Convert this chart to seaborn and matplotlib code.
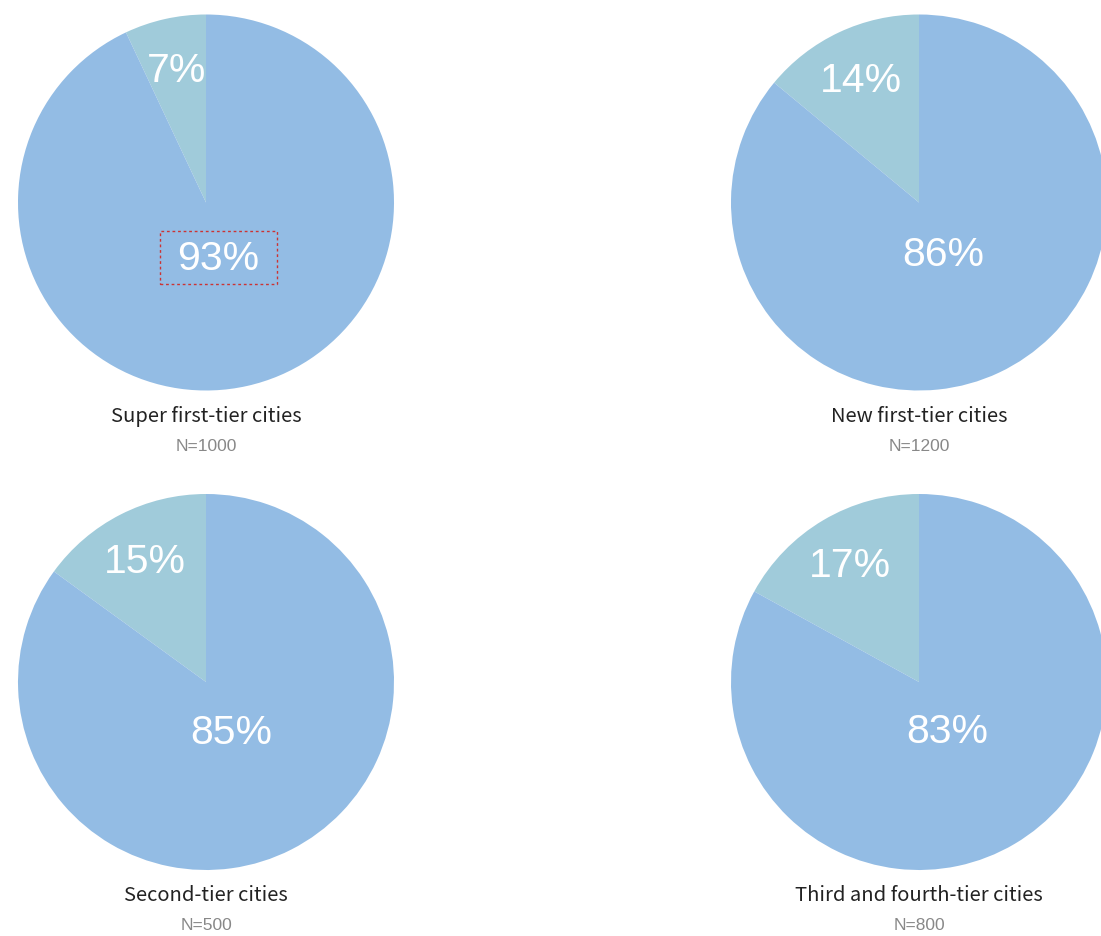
import numpy as np
import matplotlib
matplotlib.use("Agg")
import matplotlib.pyplot as plt
from matplotlib.patches import Rectangle
import seaborn as sns

# ---- data ----
titles = ["Super first-tier cities", "New first-tier cities",
          "Second-tier cities", "Third and fourth-tier cities"]
sample_sizes = [1000, 1200, 500, 800]
small_share = [7, 14, 15, 17]
large_share = [93, 86, 85, 83]

sns.set_theme(style="white")
plt.rcParams['font.family'] = ['Liberation Sans', 'DejaVu Sans']

colors = ["#A0CBDA", "#93BCE4"]

W, H = 1101, 937
fig = plt.figure(figsize=(W / 100, H / 100), dpi=100)
fig.patch.set_facecolor("white")

R = 188  # pie radius in px
centers = [(206, 203.5), (919, 203.5), (206, 683), (919, 683)]

for i, (cx, cy) in enumerate(centers):
    ax = fig.add_axes([(cx - R) / W, (H - cy - R) / H, 2 * R / W, 2 * R / H])
    vals = [small_share[i], large_share[i]]
    wedges, _ = ax.pie(vals, colors=colors, startangle=90, counterclock=True,
                       radius=1, wedgeprops=dict(linewidth=0))
    ax.set_xlim(-1, 1)
    ax.set_ylim(-1, 1)
    ax.set_aspect("equal")
    ax.axis("off")
    # labels
    dists = [0.72, 0.30]
    for k, w in enumerate(wedges):
        ang = np.deg2rad((w.theta1 + w.theta2) / 2)
        x, y = dists[k] * np.cos(ang), dists[k] * np.sin(ang)
        ax.text(x, y, f"{vals[k]}%", ha="center", va="center",
                color="white", fontsize=29.5)
        if i == 0 and k == 1:
            bw, bh = 117 / R, 53 / R
            ax.add_patch(Rectangle((x - bw / 2, y - bh / 2), bw, bh,
                                   fill=False, edgecolor="#CC3333",
                                   linewidth=1, linestyle=(0, (2, 2))))
    # titles
    fig.text(cx / W, 1 - (cy + 213) / H, titles[i], ha="center", va="center",
             fontsize=14.5, color="#222222",
             family=['Noto Sans CJK SC', 'DejaVu Sans'])
    fig.text(cx / W, 1 - (cy + 243) / H, f"N={sample_sizes[i]}", ha="center",
             va="center", fontsize=12.5, color="#888888",
             family=['Liberation Sans', 'DejaVu Sans'])

fig.savefig("out.png", dpi=100, facecolor="white")
